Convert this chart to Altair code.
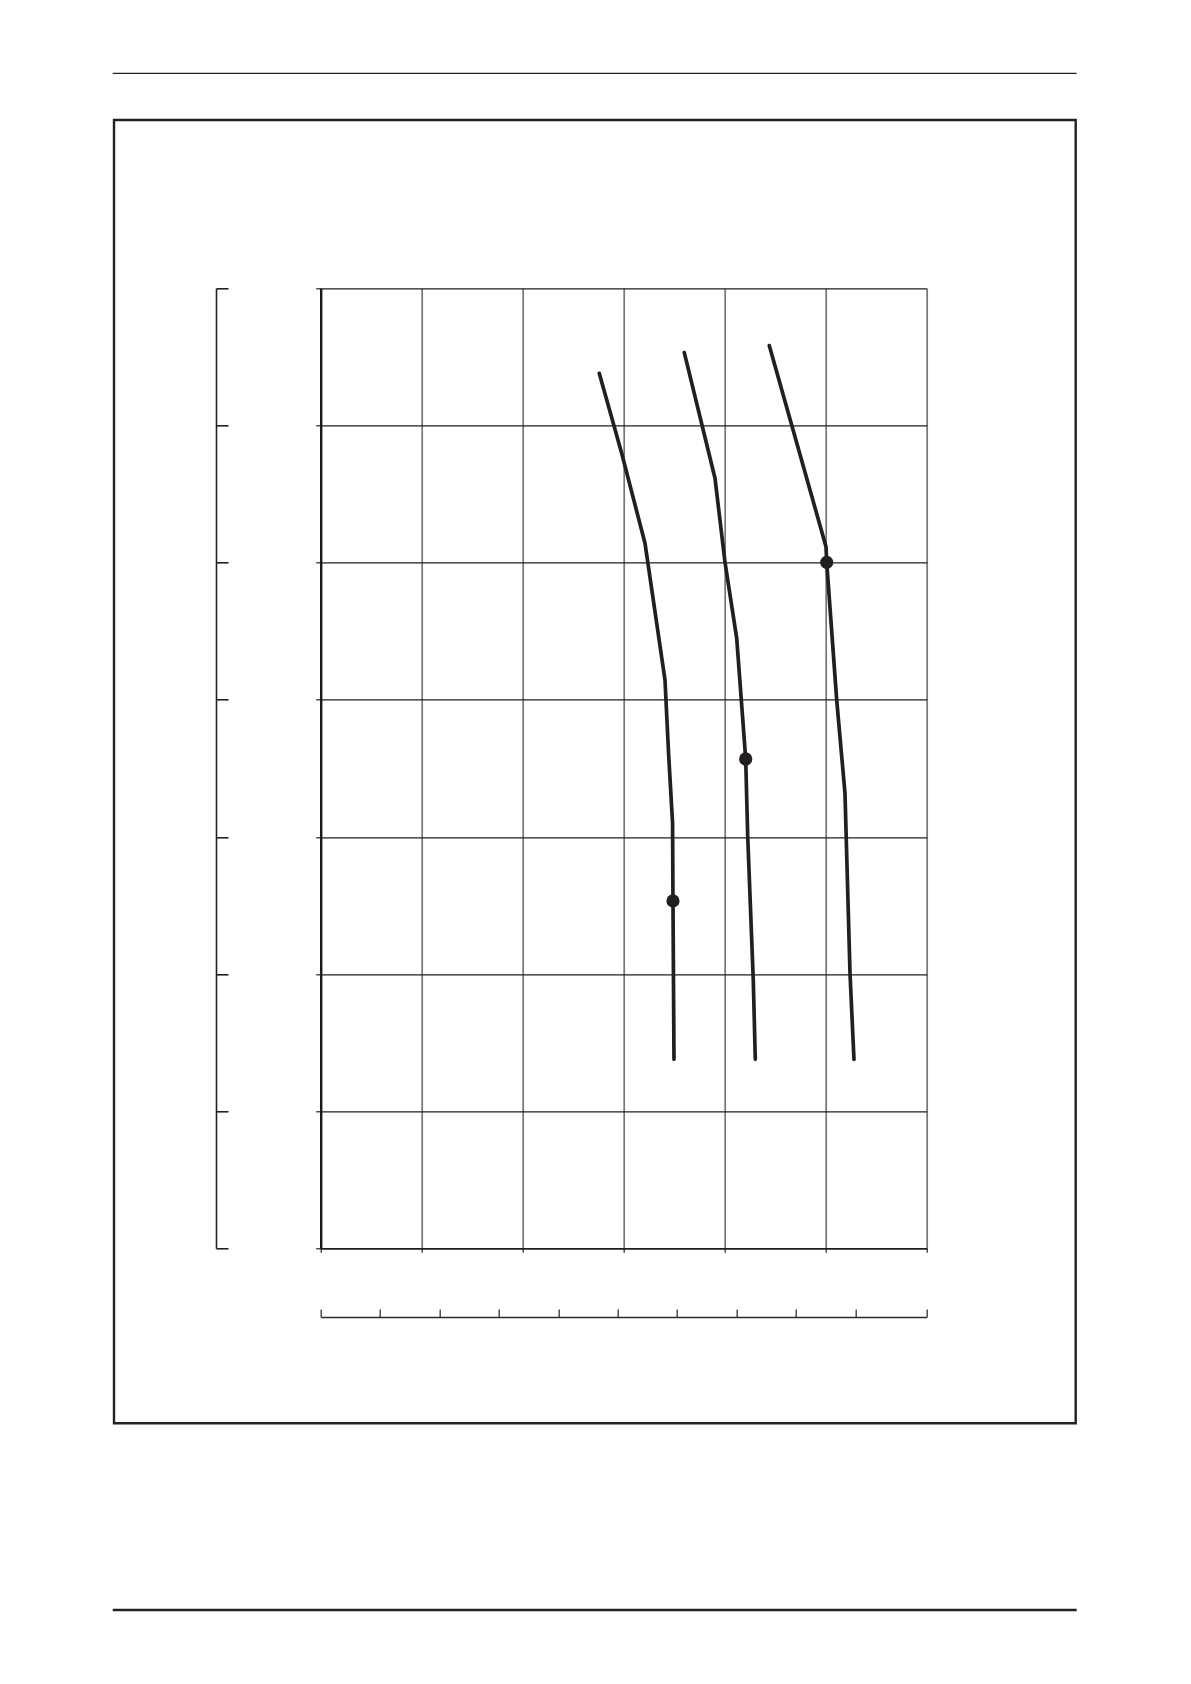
import altair as alt
import pandas as pd

# ---- data (x in grid columns 0..6, y in grid rows 0..7) ----
SERIES_NAMES = ["A", "B", "C"]
SERIES_A_X = [2.758, 2.980, 3.211, 3.409, 3.445, 3.484, 3.488, 3.498]
SERIES_A_Y = [6.380, 5.797, 5.141, 4.144, 3.600, 3.100, 2.533, 1.378]
SERIES_B_X = [3.600, 3.904, 4.003, 4.119, 4.208, 4.228, 4.283, 4.303]
SERIES_B_Y = [6.531, 5.615, 5.002, 4.448, 3.568, 3.001, 1.956, 1.378]
SERIES_C_X = [4.442, 5.003, 5.010, 5.109, 5.191, 5.241, 5.280]
SERIES_C_Y = [6.582, 5.116, 5.002, 3.998, 3.318, 2.000, 1.378]

MARK_X = [3.488, 4.208, 5.010]
MARK_Y = [2.533, 3.568, 5.002]

X_GRID = [0, 1, 2, 3, 4, 5, 6]
Y_GRID = [0, 1, 2, 3, 4, 5, 6, 7]
LEFT2_TICKS = [0, 1, 2, 3, 4, 5, 6, 7]
BOTTOM2_TICKS = [0, 1, 2, 3, 4, 5, 6, 7, 8, 9, 10.2]

# ---- build tables ----
rows = []
for name, xs, ys in zip(SERIES_NAMES, [SERIES_A_X, SERIES_B_X, SERIES_C_X],
                        [SERIES_A_Y, SERIES_B_Y, SERIES_C_Y]):
    for i, (xv, yv) in enumerate(zip(xs, ys)):
        rows.append({"series": name, "x": xv, "y": yv, "order": i})
lines_df = pd.DataFrame(rows)
marks_df = pd.DataFrame({"x": MARK_X, "y": MARK_Y})
left2_df = pd.DataFrame({"v": LEFT2_TICKS})
bottom2_df = pd.DataFrame({"v": BOTTOM2_TICKS})

W, H = 606, 960
INK = "#231f20"

x_scale = alt.Scale(domain=[0, 6], nice=False, zero=False)
y_scale = alt.Scale(domain=[0, 7], nice=False, zero=False)

x_axis = alt.Axis(values=X_GRID, labels=False, title=None, grid=True,
                  gridColor="#767676", gridWidth=1.7, domainColor="#1e1e1e",
                  domainWidth=1.6, tickColor="#222222", tickSize=4, tickWidth=1.2)
y_axis = alt.Axis(values=Y_GRID, labels=False, title=None, grid=True,
                  gridColor="#1f1f1f", gridWidth=1.3, domainColor="#1a1a1a",
                  domainWidth=2.4, tickColor="#222222", tickSize=5, tickWidth=1.2)

lines = alt.Chart(lines_df).mark_line(strokeWidth=3.7, color=INK, strokeCap="round",
                                      strokeJoin="round").encode(
    x=alt.X("x:Q", scale=x_scale, axis=x_axis),
    y=alt.Y("y:Q", scale=y_scale, axis=y_axis),
    detail="series:N",
    order="order:Q",
)
dots = alt.Chart(marks_df).mark_circle(size=175, color=INK, opacity=1).encode(
    x=alt.X("x:Q", scale=x_scale),
    y=alt.Y("y:Q", scale=y_scale),
)
main = alt.layer(lines, dots)

# secondary left axis (ticks pointing right), placed ~105px left of the plot
left2 = alt.Chart(left2_df).mark_point(opacity=0).encode(
    y=alt.Y("v:Q", scale=alt.Scale(domain=[0, 7], nice=False, zero=False),
            axis=alt.Axis(orient="right", offset=-(W + 104.7), values=LEFT2_TICKS,
                          labels=False, title=None, grid=False,
                          domainColor="#222222", domainWidth=1.6,
                          tickColor="#222222", tickSize=12, tickWidth=1.6))
)

# secondary bottom scale (ticks pointing up), ~69px under the plot
bottom2 = alt.Chart(bottom2_df).mark_point(opacity=0).encode(
    x=alt.X("v:Q", scale=alt.Scale(domain=[0, 10.2], nice=False, zero=False),
            axis=alt.Axis(orient="top", offset=-(H + 68.7), values=BOTTOM2_TICKS,
                          labels=False, title=None, grid=False,
                          domainColor="#2a2a2a", domainWidth=1.6,
                          tickColor="#333333", tickSize=8, tickWidth=1.3))
)

# page furniture: header rule, frame, footer rule (pixel positions relative to plot)
frame_df = pd.DataFrame({"k": [0]})
top_rule = alt.Chart(frame_df).mark_rule(color="#222222", strokeWidth=1.3).encode(
    x=alt.value(-208), x2=alt.value(756), y=alt.value(-215))
bottom_rule = alt.Chart(frame_df).mark_rule(color="#222222", strokeWidth=2.6).encode(
    x=alt.value(-208), x2=alt.value(756), y=alt.value(1321.7))
box = alt.Chart(frame_df).mark_rect(fillOpacity=0, stroke="#222222", strokeWidth=2.4).encode(
    x=alt.value(-206.7), x2=alt.value(755), y=alt.value(-168.3), y2=alt.value(1135))

chart = alt.layer(box, top_rule, bottom_rule, left2, bottom2, main).resolve_scale(
    x="independent", y="independent"
).properties(
    width=W, height=H,
    padding={"left": 312.7, "top": 280.3, "right": 170, "bottom": 380},
    autosize=alt.AutoSizeParams(type="none"),
    background="white",
).configure_view(strokeWidth=0)

chart.save("out.html", embed_options={"renderer": "svg", "actions": False})
